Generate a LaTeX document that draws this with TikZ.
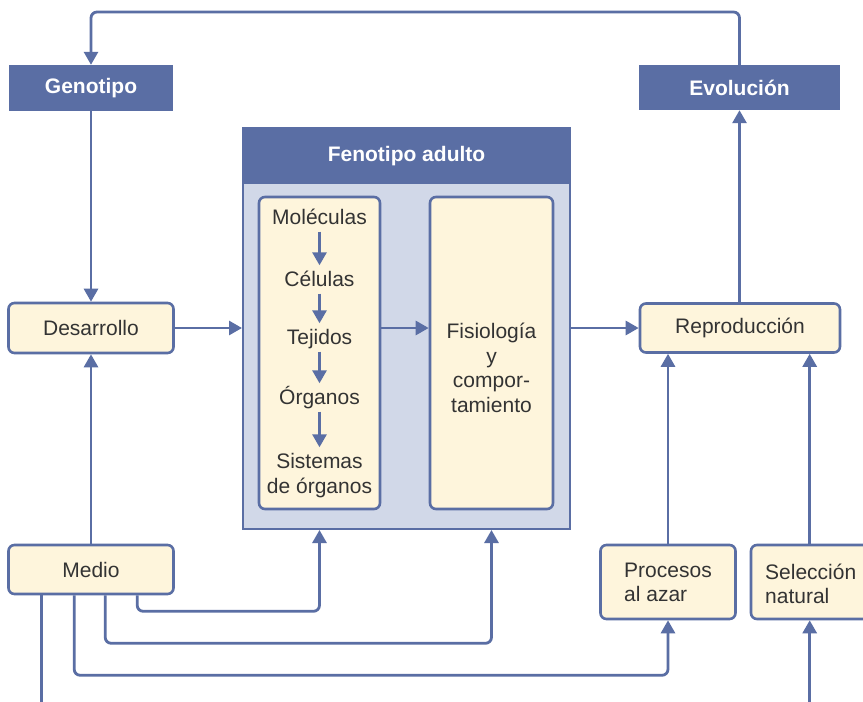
\documentclass[tikz,border=0pt]{standalone}
\usepackage{fontspec}
\setmainfont{Liberation Sans}
\usetikzlibrary{arrows.meta}
\definecolor{dblue}{HTML}{5A6EA4}
\definecolor{cream}{HTML}{FEF5DC}
\definecolor{lbody}{HTML}{D1D8E8}
\definecolor{txt}{HTML}{333333}
\begin{document}
\begin{tikzpicture}[x=1pt,y=-1pt,
  arr/.style={draw=dblue,line width=2.8pt,-{Triangle[width=14pt,length=13pt]},rounded corners=6pt},
  ln/.style={draw=dblue,line width=2.8pt,rounded corners=6pt},
  head/.style={fill=dblue,draw=none,text=white,font=\fontsize{21}{24}\selectfont\bfseries,inner sep=0pt},
  cbox/.style={fill=cream,draw=dblue,line width=2.6pt,rounded corners=6pt,text=txt,font=\fontsize{21}{24}\selectfont,inner sep=0pt},
  lbl/.style={text=txt,font=\fontsize{21}{25}\selectfont,inner sep=0pt,text height=15pt,text depth=4pt},
  inarr/.style={arr,shorten <=3pt,shorten >=6pt}]
\clip (0,0) rectangle (863,702);
\fill[white] (0,0) rectangle (863,702);
% header boxes
\node[head,minimum width=164pt,minimum height=46pt] (gen) at (91,88) {Genotipo};
\node[head,minimum width=201pt,minimum height=45pt] (evo) at (739.5,87.5) {Evolución};
% big phenotype box
\node[draw=dblue,fill=lbody,line width=2pt,minimum width=327pt,minimum height=401pt,inner sep=0pt] (fen) at (406.5,328.5) {};
\node[head,minimum width=327pt,minimum height=55pt] (fenh) at (406.5,156.5) {Fenotipo adulto};
\node[cbox,minimum width=121pt,minimum height=312pt] (inL) at (319.5,353) {};
\node[cbox,minimum width=123pt,minimum height=312pt] (inR) at (491.5,353) {};
\node[lbl] (mol) at (319.5,219) {Moléculas};
\node[lbl] (cel) at (319.5,281) {Células};
\node[lbl] (tej) at (319.5,339) {Tejidos};
\node[lbl] (org) at (319.5,399) {Órganos};
\node[lbl] (sis) at (319.5,463) {Sistemas};
\node[lbl] (deo) at (319.5,488) {de órganos};
\draw[inarr] (mol.south) -- (cel.north);
\draw[inarr] (cel.south) -- (tej.north);
\draw[inarr] (tej.south) -- (org.north);
\draw[inarr] (org.south) -- (sis.north);
\node[text=txt,font=\fontsize{21}{24.5}\selectfont,align=center,inner sep=0pt] (fis) at (491.5,368) {Fisiología\\y\\compor-\\tamiento};
% side boxes
\node[cbox,minimum width=165pt,minimum height=50pt] (des) at (91,328) {Desarrollo};
\node[cbox,minimum width=165pt,minimum height=49pt] (med) at (91,569.5) {Medio};
\node[cbox,minimum width=200pt,minimum height=49pt] (rep) at (740,328) {Reproducción};
\node[cbox,minimum width=135pt,minimum height=74pt,align=left] (proc) at (668,582) {Procesos\\al azar};
\node[cbox,minimum width=140pt,minimum height=74pt] (sel) at (821,582) {};
\node[text=txt,font=\fontsize{21}{24}\selectfont,align=left,inner sep=0pt,anchor=west] (selt) at (765,584) {Selección\\natural};
% coordinates
\coordinate (top) at (91,12);
\coordinate (bot) at (0,712);
\coordinate (m1) at ([xshift=34pt]med.south west);
\coordinate (m2) at ([xshift=67pt]med.south west);
\coordinate (m3) at ([xshift=98pt]med.south west);
\coordinate (m4) at ([xshift=130pt]med.south west);
\coordinate (selx) at ([xshift=60pt]sel.north west);
% connectors
\draw[arr] (evo.north) |- (top) -- (gen.north);
\draw[arr] (gen.south) -- (des.north);
\draw[arr] (des.east) -- (fen.west |- des.east);
\draw[arr] (inL.east |- des.east) -- (inR.west |- des.east);
\draw[arr] (fen.east |- rep.west) -- (rep.west);
\draw[arr] (rep.north -| evo.south) -- (evo.south);
\draw[arr] (med.north) -- (des.south);
\draw[ln] (m1) -- (m1 |- bot);
\draw[arr] (m2) -- ++(0,80) -| (proc.south);
\draw[arr] (m3) -- ++(0,48) -| (inR.south |- fen.south);
\draw[arr] (m4) -- ++(0,16) -| (inL.south |- fen.south);
\draw[arr] (proc.north) -- (proc.north |- rep.south);
\draw[arr] (selx) -- (selx |- rep.south);
\draw[arr] (selx |- bot) -- (selx |- sel.south);
\end{tikzpicture}
\end{document}
